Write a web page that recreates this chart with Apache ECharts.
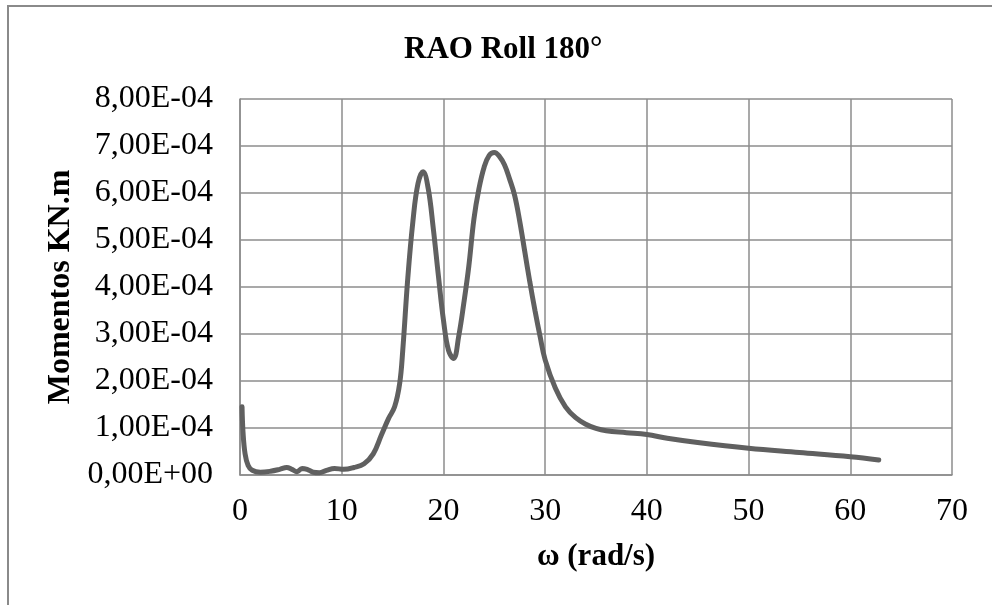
<!DOCTYPE html>
<html lang="pt">
<head>
    <meta charset="UTF-8">
    <title>RAO Roll 180°</title>
    <script src="https://cdn.jsdelivr.net/npm/echarts@6/dist/echarts.min.js"></script>
    <style>
        html, body { margin: 0; padding: 0; background: #fff; }
        #chart { width: 992px; height: 605px; }
    </style>
</head>
<body>
    <div id="chart"></div>
    <script>
        // omega (rad/s)
        var omega = [0.2, 0.3, 0.5, 0.8, 1.2, 2, 3, 3.9, 4.6, 5.1, 5.6, 6.1, 6.6, 7.2, 7.8, 8.5, 9.3, 10.2, 11.2, 12.2,
            13.1, 13.9, 14.6, 15.2, 15.7, 16, 16.5, 17, 17.5, 18, 18.5, 19, 19.5, 20, 20.5, 21, 21.5, 22, 22.5, 23,
            23.5, 24, 24.5, 25, 25.5, 26, 26.5, 27, 27.5, 28, 28.5, 29, 29.5, 30, 31, 32, 33, 34, 35, 36, 38, 40,
            42, 45, 50, 55, 60, 62.8];
        // momentos, in units of 1E-4 KN.m
        var momentos = [1.45, 0.9, 0.45, 0.2, 0.1, 0.06, 0.08, 0.12, 0.16, 0.12, 0.07, 0.14, 0.12, 0.06, 0.05, 0.1, 0.14, 0.12, 0.16, 0.24,
            0.45, 0.85, 1.2, 1.45, 1.95, 2.65, 4.2, 5.4, 6.2, 6.45, 6.1, 5.25, 4.25, 3.3, 2.65, 2.48, 2.95, 3.65, 4.45, 5.45,
            6.1, 6.55, 6.8, 6.86, 6.78, 6.6, 6.3, 5.95, 5.4, 4.75, 4.1, 3.5, 2.95, 2.45, 1.85, 1.45, 1.22, 1.08, 0.99, 0.94, 0.9, 0.86,
            0.78, 0.69, 0.57, 0.48, 0.39, 0.32];
        var xTicks = [0, 10, 20, 30, 40, 50, 60, 70];
        var yTicks = [0, 1e-4, 2e-4, 3e-4, 4e-4, 5e-4, 6e-4, 7e-4, 8e-4];

        var points = [];
        for (let i = 0; i < omega.length; i++) {
            points.push([omega[i], momentos[i] * 1e-4]);
        }

        function sciLabel(v) {
            var s = Number(v).toExponential(2).split('e');
            var exp = parseInt(s[1]);
            var sign = exp < 0 ? '-' : '+';
            var e = Math.abs(exp);
            return s[0].replace('.', ',') + 'E' + sign + (e < 10 ? '0' + e : e);
        }

        var serif = '"Liberation Serif", "DejaVu Serif", serif';
        var gridColor = '#8c8c8c';

        var myChart = echarts.init(document.getElementById('chart'));
        var option = {
            backgroundColor: '#fff',
            animation: false,
            graphic: [{
                type: 'rect',
                shape: { x: 8, y: 6, width: 1100, height: 700 },
                style: { fill: 'none', stroke: '#8a8a8a', lineWidth: 2 }
            }],
            title: {
                text: 'RAO Roll 180°',
                left: 399,
                top: 29,
                textStyle: { fontFamily: serif, fontSize: 31, fontWeight: 'bold', color: '#000' }
            },
            grid: { left: 240, right: 40, top: 99, bottom: 130 },
            xAxis: {
                type: 'value',
                min: xTicks[0],
                max: xTicks[xTicks.length - 1],
                interval: 10,
                name: 'ω (rad/s)',
                nameLocation: 'middle',
                nameGap: 66,
                nameTextStyle: { fontFamily: serif, fontSize: 31, fontWeight: 'bold', color: '#000' },
                axisLine: { lineStyle: { color: gridColor, width: 1.5 } },
                axisTick: { show: false },
                axisLabel: { fontFamily: serif, fontSize: 32, color: '#000', margin: 21 },
                splitLine: { show: true, lineStyle: { color: gridColor, width: 1.5 } }
            },
            yAxis: {
                type: 'value',
                min: yTicks[0],
                max: yTicks[yTicks.length - 1],
                interval: 1e-4,
                name: 'Momentos KN.m',
                nameLocation: 'middle',
                nameGap: 154,
                nameTextStyle: { fontFamily: serif, fontSize: 32, fontWeight: 'bold', color: '#000' },
                axisLine: { show: true, lineStyle: { color: gridColor, width: 1.5 } },
                axisTick: { show: false },
                axisLabel: { fontFamily: serif, fontSize: 32, color: '#000', margin: 27, formatter: sciLabel },
                splitLine: { show: true, lineStyle: { color: gridColor, width: 1.5 } }
            },
            series: [{
                type: 'line',
                data: points,
                smooth: 0.4,
                showSymbol: false,
                lineStyle: { color: '#606060', width: 5, cap: 'round' }
            }]
        };
        myChart.setOption(option);
    </script>
</body>
</html>
